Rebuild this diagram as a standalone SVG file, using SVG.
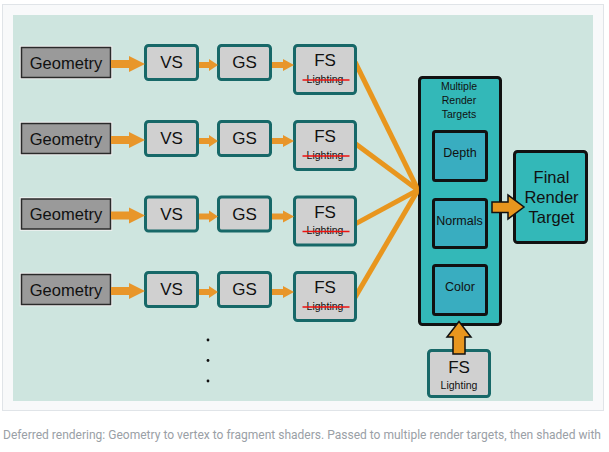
<svg xmlns="http://www.w3.org/2000/svg" width="609" height="452" viewBox="0 0 609 452">
  <defs>
    <style>
      .geo{fill:#9a9a9a;stroke:#2a2a2a;stroke-width:1.5}
      .halo{fill:none;stroke:#f2f2f2;stroke-width:3.5}
      .sh{fill:#d0d0d0;stroke:#176868;stroke-width:3}
      .t{font-family:"Liberation Sans",Arial,sans-serif;fill:#111;text-anchor:middle}
      .big{font-size:17px}
      .geot{font-size:16.5px}
      .sm{font-size:10.5px}
      .mrt{fill:#33b8b8;stroke:#111;stroke-width:3}
      .inner{fill:#39adc0;stroke:#111;stroke-width:3}
      .arr{fill:#e8962a}
      .barr{fill:#e8961e;stroke:#111;stroke-width:1.5;stroke-linejoin:miter}
      .fan{stroke:#e8961e;stroke-width:5;fill:none}
      .strike{stroke:#ee1111;stroke-width:1.5}
    </style>
    <clipPath id="fanclip"><rect x="357" y="30" width="61.5" height="300"/></clipPath>
  </defs>

  <!-- frame -->
  <rect x="2.5" y="4.5" width="601" height="406" fill="#f8f9fa" stroke="#e0e4e8" stroke-width="1"/>
  <rect x="13" y="15" width="580" height="386" fill="#cee5df"/>

  <!-- rows -->
  <g id="row1" transform="translate(0,44)">
    <g id="geometry1"><rect class="halo" x="21.5" y="3.5" width="89" height="30"/><rect class="geo" x="21.5" y="3.5" width="89" height="30"/><text class="t geot" x="66" y="24.5">Geometry</text></g>
    <g id="vs1"><rect class="sh" x="145.5" y="1.5" width="52" height="34" rx="3"/><text class="t big" x="171.5" y="24">VS</text></g>
    <g id="gs1"><rect class="sh" x="218.5" y="1.5" width="52" height="34" rx="3"/><text class="t big" x="244.5" y="24">GS</text></g>
    <g id="fs1"><rect class="sh" x="294.5" y="1.5" width="61" height="48" rx="3"/><text class="t big" x="325" y="22">FS</text><text class="t sm" x="325" y="38.5">Lighting</text><line class="strike" x1="302.5" y1="36" x2="349.5" y2="36"/></g>
  </g>
  <g id="row2" transform="translate(0,120)">
    <g id="geometry2"><rect class="halo" x="21.5" y="3.5" width="89" height="30"/><rect class="geo" x="21.5" y="3.5" width="89" height="30"/><text class="t geot" x="66" y="24.5">Geometry</text></g>
    <g id="vs2"><rect class="sh" x="145.5" y="1.5" width="52" height="34" rx="3"/><text class="t big" x="171.5" y="24">VS</text></g>
    <g id="gs2"><rect class="sh" x="218.5" y="1.5" width="52" height="34" rx="3"/><text class="t big" x="244.5" y="24">GS</text></g>
    <g id="fs2"><rect class="sh" x="294.5" y="1.5" width="61" height="48" rx="3"/><text class="t big" x="325" y="22">FS</text><text class="t sm" x="325" y="38.5">Lighting</text><line class="strike" x1="302.5" y1="36" x2="349.5" y2="36"/></g>
  </g>
  <g id="row3" transform="translate(0,195.5)">
    <g id="geometry3"><rect class="halo" x="21.5" y="3.5" width="89" height="30"/><rect class="geo" x="21.5" y="3.5" width="89" height="30"/><text class="t geot" x="66" y="24.5">Geometry</text></g>
    <g id="vs3"><rect class="sh" x="145.5" y="1.5" width="52" height="34" rx="3"/><text class="t big" x="171.5" y="24">VS</text></g>
    <g id="gs3"><rect class="sh" x="218.5" y="1.5" width="52" height="34" rx="3"/><text class="t big" x="244.5" y="24">GS</text></g>
    <g id="fs3"><rect class="sh" x="294.5" y="1.5" width="61" height="48" rx="3"/><text class="t big" x="325" y="22">FS</text><text class="t sm" x="325" y="38.5">Lighting</text><line class="strike" x1="302.5" y1="36" x2="349.5" y2="36"/></g>
  </g>
  <g id="row4" transform="translate(0,271)">
    <g id="geometry4"><rect class="halo" x="21.5" y="3.5" width="89" height="30"/><rect class="geo" x="21.5" y="3.5" width="89" height="30"/><text class="t geot" x="66" y="24.5">Geometry</text></g>
    <g id="vs4"><rect class="sh" x="145.5" y="1.5" width="52" height="34" rx="3"/><text class="t big" x="171.5" y="24">VS</text></g>
    <g id="gs4"><rect class="sh" x="218.5" y="1.5" width="52" height="34" rx="3"/><text class="t big" x="244.5" y="24">GS</text></g>
    <g id="fs4"><rect class="sh" x="294.5" y="1.5" width="61" height="48" rx="3"/><text class="t big" x="325" y="22">FS</text><text class="t sm" x="325" y="38.5">Lighting</text><line class="strike" x1="302.5" y1="36" x2="349.5" y2="36"/></g>
  </g>

  <!-- ellipsis -->
  <g id="more" fill="#111">
    <circle cx="208" cy="340" r="1.4"/>
    <circle cx="208" cy="360.5" r="1.4"/>
    <circle cx="208" cy="381" r="1.4"/>
  </g>

  <!-- MRT -->
  <g id="mrt">
    <rect class="mrt" x="419.5" y="77.5" width="81" height="247" rx="3"/>
    <text class="t" font-size="10.5" x="459" y="89.5">Multiple</text>
    <text class="t" font-size="10.5" x="459" y="103.5">Render</text>
    <text class="t" font-size="10.5" x="459" y="117.5">Targets</text>
  </g>
  <g id="depth"><rect class="inner" x="433.5" y="131.5" width="53" height="49" rx="2"/><text class="t" font-size="12.5" x="460" y="157">Depth</text></g>
  <g id="normals"><rect class="inner" x="433.5" y="199.5" width="53" height="48" rx="2"/><text class="t" font-size="12.5" x="459.5" y="224.5">Normals</text></g>
  <g id="color"><rect class="inner" x="433.5" y="265.5" width="53" height="49" rx="2"/><text class="t" font-size="12.5" x="460" y="291">Color</text></g>

  <g id="final">
    <rect class="mrt" x="514.5" y="151.5" width="72" height="91" rx="3"/>
    <text class="t" font-size="16.5" x="551.5" y="182.5">Final</text>
    <text class="t" font-size="16.5" x="551.5" y="202.5">Render</text>
    <text class="t" font-size="16.5" x="551.5" y="222.5">Target</text>
  </g>

  <g id="fs_lighting">
    <rect class="sh" x="428.5" y="350.5" width="61" height="46" rx="3"/>
    <text class="t big" x="459" y="372.5">FS</text>
    <text class="t sm" x="459" y="389">Lighting</text>
  </g>

  <!-- connectors -->
  <g id="connectors">
    <g clip-path="url(#fanclip)">
      <line class="fan" x1="350" y1="51.8" x2="420" y2="194"/>
      <line class="fan" x1="350" y1="139.8" x2="420" y2="191.5"/>
      <line class="fan" x1="350" y1="226.8" x2="420" y2="188.9"/>
      <line class="fan" x1="350" y1="305.9" x2="420" y2="186.6"/>
    </g>
    <g transform="translate(0,44)">
      <polygon class="arr" points="111,16 129,16 129,12 145,20 129,28 129,24 111,24"/>
      <polygon class="arr" points="199,18 209,18 209,15 218,21 209,27 209,24 199,24"/>
      <polygon class="arr" points="272,18 283,18 283,15 294,21 283,27 283,24 272,24"/>
    </g>
    <g transform="translate(0,120)">
      <polygon class="arr" points="111,16 129,16 129,12 145,20 129,28 129,24 111,24"/>
      <polygon class="arr" points="199,18 209,18 209,15 218,21 209,27 209,24 199,24"/>
      <polygon class="arr" points="272,18 283,18 283,15 294,21 283,27 283,24 272,24"/>
    </g>
    <g transform="translate(0,195.5)">
      <polygon class="arr" points="111,16 129,16 129,12 145,20 129,28 129,24 111,24"/>
      <polygon class="arr" points="199,18 209,18 209,15 218,21 209,27 209,24 199,24"/>
      <polygon class="arr" points="272,18 283,18 283,15 294,21 283,27 283,24 272,24"/>
    </g>
    <g transform="translate(0,271)">
      <polygon class="arr" points="111,16 129,16 129,12 145,20 129,28 129,24 111,24"/>
      <polygon class="arr" points="199,18 209,18 209,15 218,21 209,27 209,24 199,24"/>
      <polygon class="arr" points="272,18 283,18 283,15 294,21 283,27 283,24 272,24"/>
    </g>
    <polygon class="barr" points="492,202 508,202 508,195 524,207 508,219 508,212.5 492,212.5"/>
    <polygon class="barr" points="453,354 453,337 447,337 459,321.5 471,337 465,337 465,354"/>
  </g>

  <text x="3" y="439" font-family="Roboto, 'Liberation Sans', sans-serif" font-size="12.2" fill="#9aa0a6" textLength="598" lengthAdjust="spacingAndGlyphs">Deferred rendering: Geometry to vertex to fragment shaders. Passed to multiple render targets, then shaded with</text>
</svg>
